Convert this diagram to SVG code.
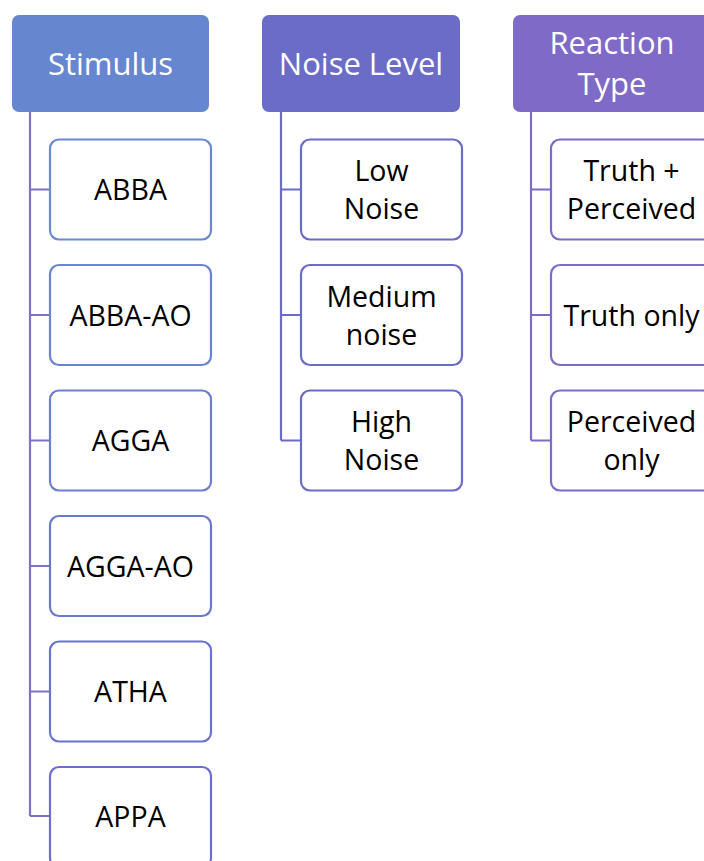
<svg xmlns="http://www.w3.org/2000/svg" width="704" height="861" viewBox="0 0 704 861">
<style>
.hdr text{fill:#fff;font-family:"Open Sans","Liberation Sans",sans-serif;font-size:31px;text-anchor:middle;dominant-baseline:central}
.ch rect{fill:#fff;stroke-width:2.2}
.ch text{fill:#000;font-family:"Open Sans","Liberation Sans",sans-serif;font-size:28.5px;text-anchor:middle;dominant-baseline:central}
.con path{fill:none;stroke-width:2.2}
</style>
<rect width="704" height="861" fill="#fff"/>
<g class="con">
<path d="M30 112V816M30 189.5H50M30 315H50M30 440.5H50M30 566H50M30 691.5H50M30 816H50" stroke="#7f70c9"/>
<path d="M281 112V440.5M281 189.5H301M281 315H301M281 440.5H301" stroke="#6a6cc8"/>
<path d="M531 112V440.5M531 189.5H551M531 315H551M531 440.5H551" stroke="#7f6ac8"/>
</g>
<g id="stimulus" class="hdr"><rect x="12" y="15" width="197" height="97" rx="7" fill="#6687cf"/><text x="110.5" y="63">Stimulus</text></g>
<g id="noise" class="hdr"><rect x="262" y="15" width="198" height="97" rx="7" fill="#6a6cc8"/><text x="361" y="63">Noise Level</text></g>
<g id="reaction" class="hdr"><rect x="513" y="15" width="200" height="97" rx="7" fill="#7f6ac8"/><text x="612" y="42">Reaction</text><text x="612" y="83">Type</text></g>
<g id="abba" class="ch"><rect x="50" y="139.5" width="161" height="100" rx="9" stroke="#6b89d2"/><text x="130.5" y="189">ABBA</text></g>
<g id="abba-ao" class="ch"><rect x="50" y="265" width="161" height="100" rx="9" stroke="#6b83d2"/><text x="130.5" y="314.5">ABBA-AO</text></g>
<g id="agga" class="ch"><rect x="50" y="390.5" width="161" height="100" rx="9" stroke="#6b7ed1"/><text x="130.5" y="440">AGGA</text></g>
<g id="agga-ao" class="ch"><rect x="50" y="516" width="161" height="100" rx="9" stroke="#6b78d0"/><text x="130.5" y="565.5">AGGA-AO</text></g>
<g id="atha" class="ch"><rect x="50" y="641.5" width="161" height="100" rx="9" stroke="#6b73d0"/><text x="130.5" y="691">ATHA</text></g>
<g id="appa" class="ch"><rect x="50" y="767" width="161" height="100" rx="9" stroke="#6b6ecf"/><text x="130.5" y="815.5">APPA</text></g>
<g id="low" class="ch"><rect x="301" y="139.5" width="161" height="100" rx="9" stroke="#6a6cc8"/><text x="381.5" y="170">Low</text><text x="381.5" y="208">Noise</text></g>
<g id="medium" class="ch"><rect x="301" y="265" width="161" height="100" rx="9" stroke="#6a6cc8"/><text x="381.5" y="295.5">Medium</text><text x="381.5" y="333.5">noise</text></g>
<g id="high" class="ch"><rect x="301" y="390.5" width="161" height="100" rx="9" stroke="#6a6cc8"/><text x="381.5" y="421">High</text><text x="381.5" y="459">Noise</text></g>
<g id="tp" class="ch"><rect x="551" y="139.5" width="161" height="100" rx="9" stroke="#7f6ac8"/><text x="631.5" y="170">Truth +</text><text x="631.5" y="208">Perceived</text></g>
<g id="to" class="ch"><rect x="551" y="265" width="161" height="100" rx="9" stroke="#7f6ac8"/><text x="631.5" y="314.5">Truth only</text></g>
<g id="po" class="ch"><rect x="551" y="390.5" width="161" height="100" rx="9" stroke="#7f6ac8"/><text x="631.5" y="421">Perceived</text><text x="631.5" y="459">only</text></g>
</svg>
